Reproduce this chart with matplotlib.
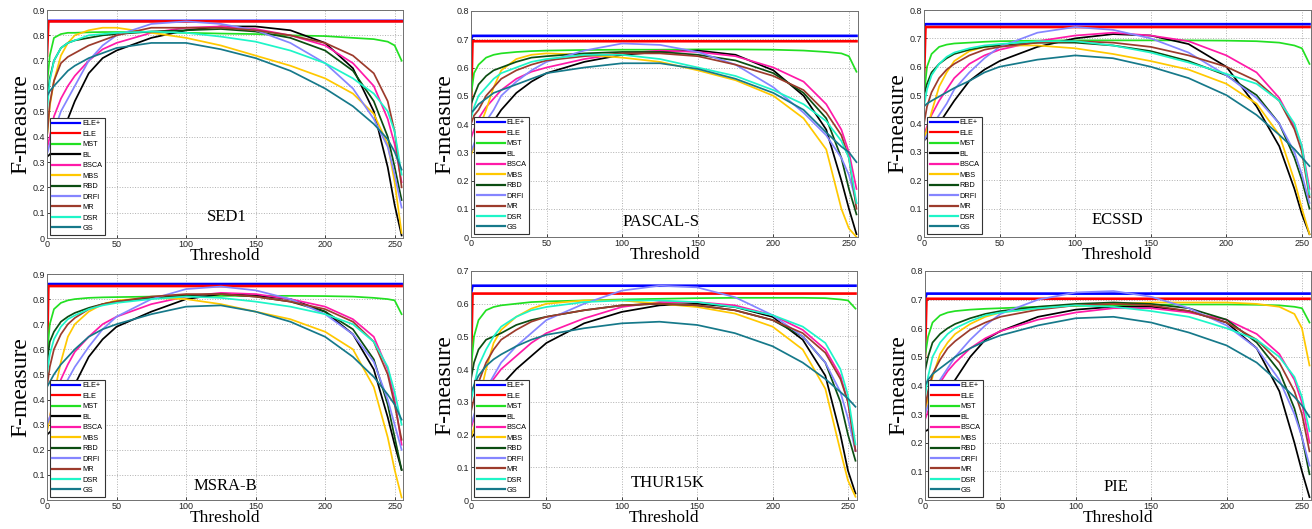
import matplotlib
matplotlib.use('Agg')
import matplotlib.pyplot as plt

thr = [0, 2, 5, 10, 15, 20, 30, 40, 50, 75, 100, 125, 150, 175, 200, 220, 235, 245, 250, 255]

methods = ['ELE+', 'ELE', 'MST', 'BL', 'BSCA', 'MBS', 'RBD', 'DRFI', 'MR', 'DSR', 'GS']
datasets = ['SED1', 'PASCAL-S', 'ECSSD', 'MSRA-B', 'THUR15K', 'PIE']
ymax = [0.9, 0.8, 0.8, 0.9, 0.7, 0.8]

# flat curves of ELE+ / ELE : value at threshold 0, then constant level
ele_plus_start = [0.85, 0.70, 0.74, 0.85, 0.63, 0.70]
ele_plus_level = [0.857, 0.712, 0.75, 0.860, 0.655, 0.721]
ele_start = [0.72, 0.45, 0.55, 0.55, 0.40, 0.50]
ele_level = [0.855, 0.693, 0.740, 0.852, 0.631, 0.703]

# SED1
sed1_mst = [0.60, 0.72, 0.79, 0.805, 0.81, 0.81, 0.812, 0.813, 0.813, 0.812, 0.81, 0.807, 0.805, 0.80, 0.797, 0.79, 0.785, 0.775, 0.76, 0.70]
sed1_bl = [0.32, 0.33, 0.35, 0.40, 0.47, 0.54, 0.65, 0.71, 0.74, 0.79, 0.82, 0.835, 0.835, 0.82, 0.77, 0.67, 0.50, 0.28, 0.13, 0.01]
sed1_bsca = [0.35, 0.40, 0.48, 0.55, 0.60, 0.64, 0.70, 0.745, 0.77, 0.81, 0.83, 0.835, 0.825, 0.80, 0.76, 0.69, 0.60, 0.47, 0.37, 0.22]
sed1_mbs = [0.40, 0.52, 0.62, 0.72, 0.77, 0.80, 0.82, 0.83, 0.83, 0.81, 0.79, 0.76, 0.72, 0.68, 0.63, 0.57, 0.49, 0.37, 0.22, 0.02]
sed1_rbd = [0.55, 0.63, 0.70, 0.75, 0.77, 0.78, 0.79, 0.80, 0.805, 0.815, 0.82, 0.825, 0.815, 0.79, 0.74, 0.66, 0.54, 0.40, 0.28, 0.15]
sed1_drfi = [0.33, 0.37, 0.42, 0.50, 0.55, 0.60, 0.70, 0.76, 0.80, 0.845, 0.855, 0.845, 0.82, 0.77, 0.69, 0.59, 0.47, 0.36, 0.25, 0.12]
sed1_mr = [0.40, 0.53, 0.62, 0.69, 0.715, 0.73, 0.76, 0.78, 0.80, 0.83, 0.83, 0.83, 0.82, 0.80, 0.77, 0.72, 0.65, 0.54, 0.42, 0.20]
sed1_dsr = [0.50, 0.62, 0.70, 0.75, 0.77, 0.78, 0.80, 0.805, 0.81, 0.815, 0.81, 0.795, 0.775, 0.74, 0.69, 0.63, 0.57, 0.50, 0.42, 0.25]
sed1_gs = [0.56, 0.58, 0.60, 0.63, 0.66, 0.68, 0.71, 0.73, 0.75, 0.77, 0.77, 0.745, 0.71, 0.66, 0.59, 0.52, 0.45, 0.39, 0.34, 0.27]

# PASCAL-S
pascal_mst = [0.50, 0.58, 0.61, 0.635, 0.645, 0.65, 0.655, 0.658, 0.66, 0.662, 0.663, 0.663, 0.664, 0.664, 0.663, 0.66, 0.655, 0.65, 0.64, 0.585]
pascal_bl = [0.30, 0.32, 0.35, 0.38, 0.41, 0.45, 0.51, 0.55, 0.58, 0.62, 0.645, 0.655, 0.66, 0.645, 0.59, 0.50, 0.38, 0.20, 0.10, 0.01]
pascal_bsca = [0.35, 0.38, 0.42, 0.46, 0.49, 0.52, 0.56, 0.585, 0.60, 0.63, 0.65, 0.66, 0.655, 0.64, 0.60, 0.55, 0.47, 0.38, 0.30, 0.17]
pascal_mbs = [0.29, 0.32, 0.38, 0.45, 0.53, 0.59, 0.63, 0.645, 0.65, 0.645, 0.635, 0.62, 0.59, 0.555, 0.50, 0.42, 0.31, 0.10, 0.03, 0.0]
pascal_rbd = [0.47, 0.50, 0.54, 0.57, 0.59, 0.60, 0.62, 0.635, 0.64, 0.65, 0.655, 0.655, 0.645, 0.625, 0.58, 0.51, 0.42, 0.28, 0.17, 0.08]
pascal_drfi = [0.30, 0.33, 0.37, 0.41, 0.45, 0.50, 0.55, 0.59, 0.62, 0.66, 0.685, 0.68, 0.655, 0.61, 0.53, 0.44, 0.36, 0.28, 0.22, 0.12]
pascal_mr = [0.40, 0.43, 0.45, 0.50, 0.53, 0.56, 0.59, 0.61, 0.625, 0.64, 0.65, 0.65, 0.64, 0.61, 0.57, 0.52, 0.44, 0.36, 0.28, 0.10]
pascal_dsr = [0.42, 0.46, 0.50, 0.53, 0.56, 0.58, 0.60, 0.62, 0.63, 0.645, 0.645, 0.63, 0.60, 0.57, 0.52, 0.47, 0.41, 0.34, 0.28, 0.12]
pascal_gs = [0.44, 0.45, 0.47, 0.49, 0.51, 0.52, 0.54, 0.56, 0.58, 0.60, 0.615, 0.615, 0.595, 0.56, 0.51, 0.45, 0.37, 0.32, 0.30, 0.265]

# ECSSD
ecssd_mst = [0.50, 0.60, 0.645, 0.67, 0.678, 0.682, 0.685, 0.688, 0.69, 0.692, 0.693, 0.693, 0.693, 0.693, 0.692, 0.69, 0.685, 0.675, 0.665, 0.61]
ecssd_bl = [0.34, 0.35, 0.37, 0.40, 0.44, 0.48, 0.55, 0.59, 0.62, 0.67, 0.70, 0.715, 0.71, 0.68, 0.60, 0.46, 0.32, 0.17, 0.08, 0.01]
ecssd_bsca = [0.36, 0.39, 0.43, 0.48, 0.52, 0.56, 0.61, 0.64, 0.66, 0.69, 0.71, 0.72, 0.71, 0.69, 0.64, 0.58, 0.49, 0.39, 0.32, 0.17]
ecssd_mbs = [0.34, 0.38, 0.44, 0.53, 0.58, 0.62, 0.655, 0.67, 0.675, 0.675, 0.665, 0.645, 0.62, 0.59, 0.54, 0.47, 0.36, 0.20, 0.10, 0.01]
ecssd_rbd = [0.50, 0.54, 0.58, 0.61, 0.63, 0.645, 0.66, 0.67, 0.675, 0.685, 0.685, 0.675, 0.655, 0.62, 0.57, 0.50, 0.40, 0.28, 0.20, 0.10]
ecssd_drfi = [0.34, 0.36, 0.39, 0.43, 0.47, 0.52, 0.58, 0.63, 0.67, 0.72, 0.74, 0.73, 0.70, 0.65, 0.57, 0.49, 0.40, 0.30, 0.22, 0.12]
ecssd_mr = [0.40, 0.46, 0.51, 0.56, 0.59, 0.61, 0.64, 0.66, 0.67, 0.685, 0.69, 0.685, 0.67, 0.64, 0.60, 0.55, 0.48, 0.38, 0.30, 0.14]
ecssd_dsr = [0.46, 0.52, 0.57, 0.61, 0.635, 0.65, 0.665, 0.675, 0.68, 0.69, 0.69, 0.675, 0.65, 0.615, 0.575, 0.54, 0.48, 0.40, 0.32, 0.15]
ecssd_gs = [0.46, 0.47, 0.48, 0.495, 0.51, 0.525, 0.55, 0.58, 0.60, 0.625, 0.64, 0.63, 0.60, 0.56, 0.50, 0.43, 0.36, 0.31, 0.28, 0.25]

# MSRA-B
msra_mst = [0.57, 0.70, 0.76, 0.785, 0.795, 0.80, 0.805, 0.807, 0.808, 0.81, 0.812, 0.813, 0.813, 0.813, 0.812, 0.81, 0.805, 0.80, 0.795, 0.74]
msra_bl = [0.26, 0.27, 0.29, 0.34, 0.40, 0.46, 0.57, 0.64, 0.69, 0.75, 0.80, 0.82, 0.815, 0.80, 0.75, 0.66, 0.52, 0.33, 0.22, 0.12]
msra_bsca = [0.28, 0.33, 0.40, 0.48, 0.54, 0.59, 0.65, 0.70, 0.73, 0.78, 0.81, 0.825, 0.82, 0.80, 0.77, 0.72, 0.65, 0.52, 0.40, 0.22]
msra_mbs = [0.27, 0.33, 0.42, 0.55, 0.65, 0.70, 0.75, 0.78, 0.795, 0.805, 0.80, 0.78, 0.75, 0.72, 0.67, 0.60, 0.45, 0.25, 0.12, 0.01]
msra_rbd = [0.55, 0.63, 0.67, 0.71, 0.73, 0.745, 0.765, 0.78, 0.79, 0.805, 0.815, 0.82, 0.81, 0.79, 0.75, 0.68, 0.56, 0.38, 0.25, 0.12]
msra_drfi = [0.30, 0.33, 0.37, 0.43, 0.48, 0.53, 0.61, 0.68, 0.73, 0.80, 0.84, 0.85, 0.835, 0.80, 0.74, 0.66, 0.55, 0.40, 0.30, 0.20]
msra_mr = [0.45, 0.53, 0.60, 0.66, 0.70, 0.725, 0.76, 0.78, 0.79, 0.81, 0.82, 0.82, 0.81, 0.79, 0.76, 0.71, 0.63, 0.50, 0.38, 0.24]
msra_dsr = [0.50, 0.58, 0.64, 0.69, 0.72, 0.735, 0.76, 0.775, 0.785, 0.80, 0.81, 0.805, 0.79, 0.77, 0.74, 0.70, 0.63, 0.53, 0.43, 0.30]
msra_gs = [0.45, 0.47, 0.50, 0.54, 0.57, 0.60, 0.65, 0.68, 0.70, 0.74, 0.77, 0.775, 0.75, 0.71, 0.65, 0.57, 0.49, 0.42, 0.38, 0.32]

# THUR15K
thur_mst = [0.40, 0.50, 0.55, 0.58, 0.59, 0.595, 0.60, 0.605, 0.607, 0.61, 0.613, 0.615, 0.617, 0.618, 0.618, 0.618, 0.617, 0.613, 0.61, 0.585]
thur_bl = [0.19, 0.20, 0.22, 0.27, 0.31, 0.35, 0.40, 0.44, 0.48, 0.54, 0.575, 0.595, 0.60, 0.59, 0.56, 0.49, 0.38, 0.20, 0.09, 0.02]
thur_bsca = [0.22, 0.25, 0.29, 0.33, 0.37, 0.40, 0.44, 0.48, 0.51, 0.555, 0.59, 0.605, 0.605, 0.595, 0.565, 0.52, 0.46, 0.38, 0.30, 0.15]
thur_mbs = [0.19, 0.22, 0.30, 0.40, 0.48, 0.52, 0.56, 0.585, 0.60, 0.61, 0.61, 0.60, 0.59, 0.57, 0.53, 0.46, 0.34, 0.15, 0.06, 0.01]
thur_rbd = [0.37, 0.42, 0.46, 0.49, 0.50, 0.51, 0.535, 0.55, 0.56, 0.58, 0.595, 0.60, 0.595, 0.58, 0.55, 0.50, 0.42, 0.30, 0.20, 0.12]
thur_drfi = [0.23, 0.26, 0.30, 0.34, 0.38, 0.42, 0.47, 0.51, 0.55, 0.60, 0.64, 0.655, 0.65, 0.62, 0.565, 0.50, 0.42, 0.33, 0.25, 0.15]
thur_mr = [0.27, 0.31, 0.36, 0.42, 0.46, 0.49, 0.52, 0.545, 0.56, 0.58, 0.595, 0.60, 0.595, 0.58, 0.55, 0.51, 0.45, 0.37, 0.30, 0.15]
thur_dsr = [0.30, 0.35, 0.41, 0.46, 0.50, 0.53, 0.56, 0.58, 0.59, 0.605, 0.61, 0.61, 0.605, 0.59, 0.565, 0.53, 0.48, 0.40, 0.32, 0.17]
thur_gs = [0.33, 0.35, 0.38, 0.41, 0.43, 0.445, 0.47, 0.49, 0.505, 0.525, 0.54, 0.545, 0.535, 0.51, 0.47, 0.42, 0.37, 0.33, 0.31, 0.285]

# PIE
pie_mst = [0.50, 0.57, 0.62, 0.645, 0.655, 0.66, 0.665, 0.668, 0.67, 0.675, 0.678, 0.68, 0.682, 0.683, 0.683, 0.682, 0.68, 0.675, 0.67, 0.62]
pie_bl = [0.24, 0.245, 0.27, 0.32, 0.37, 0.42, 0.50, 0.56, 0.59, 0.64, 0.665, 0.675, 0.675, 0.66, 0.62, 0.53, 0.38, 0.20, 0.10, 0.01]
pie_bsca = [0.28, 0.31, 0.35, 0.41, 0.45, 0.48, 0.53, 0.565, 0.59, 0.63, 0.655, 0.67, 0.67, 0.655, 0.63, 0.58, 0.51, 0.42, 0.34, 0.20]
pie_mbs = [0.30, 0.36, 0.43, 0.51, 0.55, 0.58, 0.615, 0.64, 0.655, 0.67, 0.68, 0.685, 0.69, 0.69, 0.69, 0.685, 0.675, 0.65, 0.60, 0.47]
pie_rbd = [0.45, 0.50, 0.55, 0.58, 0.60, 0.615, 0.635, 0.65, 0.66, 0.675, 0.685, 0.69, 0.685, 0.67, 0.63, 0.55, 0.45, 0.32, 0.22, 0.09]
pie_drfi = [0.30, 0.33, 0.37, 0.42, 0.46, 0.50, 0.56, 0.61, 0.65, 0.70, 0.725, 0.73, 0.71, 0.67, 0.61, 0.53, 0.42, 0.30, 0.22, 0.12]
pie_mr = [0.32, 0.38, 0.44, 0.49, 0.53, 0.555, 0.595, 0.62, 0.64, 0.665, 0.68, 0.685, 0.68, 0.66, 0.62, 0.56, 0.48, 0.38, 0.30, 0.17]
pie_dsr = [0.36, 0.43, 0.50, 0.55, 0.58, 0.60, 0.625, 0.645, 0.655, 0.67, 0.68, 0.675, 0.66, 0.64, 0.60, 0.56, 0.50, 0.43, 0.36, 0.24]
pie_gs = [0.40, 0.42, 0.44, 0.46, 0.48, 0.50, 0.53, 0.555, 0.575, 0.61, 0.635, 0.64, 0.62, 0.585, 0.54, 0.48, 0.41, 0.36, 0.33, 0.29]

curves = [
    [sed1_mst, sed1_bl, sed1_bsca, sed1_mbs, sed1_rbd, sed1_drfi, sed1_mr, sed1_dsr, sed1_gs],
    [pascal_mst, pascal_bl, pascal_bsca, pascal_mbs, pascal_rbd, pascal_drfi, pascal_mr, pascal_dsr, pascal_gs],
    [ecssd_mst, ecssd_bl, ecssd_bsca, ecssd_mbs, ecssd_rbd, ecssd_drfi, ecssd_mr, ecssd_dsr, ecssd_gs],
    [msra_mst, msra_bl, msra_bsca, msra_mbs, msra_rbd, msra_drfi, msra_mr, msra_dsr, msra_gs],
    [thur_mst, thur_bl, thur_bsca, thur_mbs, thur_rbd, thur_drfi, thur_mr, thur_dsr, thur_gs],
    [pie_mst, pie_bl, pie_bsca, pie_mbs, pie_rbd, pie_drfi, pie_mr, pie_dsr, pie_gs],
]

colors = ['#0000ff', '#ff0000', '#22e022', '#000000', '#ff1aa8', '#ffc800',
          '#0b4d12', '#8585ff', '#9c3b2c', '#1ef5c8', '#16798a']

# axes boxes in pixels: left, right, top, bottom
boxes = [(47, 403, 10, 238), (471, 858, 11, 237), (924, 1311, 10, 237),
         (47, 403, 274, 500), (471, 857, 271, 500), (925, 1311, 271, 500)]
title_pos = [(0.505, 0.09), (0.49, 0.065), (0.50, 0.075),
             (0.50, 0.06), (0.51, 0.075), (0.495, 0.055)]

W, H = 1312, 529
fig = plt.figure(figsize=(W / 100, H / 100), dpi=100)
serif = ['Liberation Serif', 'DejaVu Serif']
sans = ['Liberation Sans', 'DejaVu Sans']

for i, name in enumerate(datasets):
    l, r, t, b = boxes[i]
    ax = fig.add_axes([l / W, 1 - b / H, (r - l) / W, (b - t) / H])
    ax.plot([0, 1, 255], [ele_plus_start[i], ele_plus_level[i], ele_plus_level[i]],
            color=colors[0], lw=1.9, label=methods[0])
    ax.plot([0, 1, 255], [ele_start[i], ele_level[i], ele_level[i]],
            color=colors[1], lw=1.9, label=methods[1])
    for j, yv in enumerate(curves[i]):
        ax.plot(thr, yv, color=colors[j + 2], lw=1.25, label=methods[j + 2])

    ax.set_xlim(0, 256)
    ax.set_ylim(0, ymax[i])
    ax.set_xticks([0, 50, 100, 150, 200, 250])
    yt = [k / 10 for k in range(int(round(ymax[i] * 10)) + 1)]
    ax.set_yticks(yt)
    ax.set_yticklabels(['0'] + ['%g' % v for v in yt[1:]])
    ax.tick_params(direction='in', length=2.5, width=0.6, labelsize=6.5, pad=1.5, colors='#222222')
    for lab in ax.get_xticklabels() + ax.get_yticklabels():
        lab.set_family(sans)
    ax.grid(True, linestyle=':', color='#b0b0b0', linewidth=0.7)
    for sp in ax.spines.values():
        sp.set_color('#707070')
        sp.set_linewidth(0.7)

    ax.set_xlabel('Threshold', family=serif, fontsize=12.5, labelpad=-1)
    ax.set_ylabel('F-measure', family=serif, fontsize=17, labelpad=1)
    ax.text(title_pos[i][0], title_pos[i][1], name, transform=ax.transAxes,
            ha='center', va='center', family=serif, fontsize=12)

    leg = ax.legend(loc='lower left', bbox_to_anchor=(0.008, 0.015),
                    handlelength=3.8, handletextpad=0.3, labelspacing=0.45,
                    borderpad=0.35, borderaxespad=0, fancybox=False, framealpha=1,
                    prop={'family': sans, 'size': 5.3})
    leg.get_frame().set_edgecolor('#333333')
    leg.get_frame().set_linewidth(0.8)
    for h in leg.get_lines():
        h.set_linewidth(1.6)

fig.savefig('out.png', dpi=100)
